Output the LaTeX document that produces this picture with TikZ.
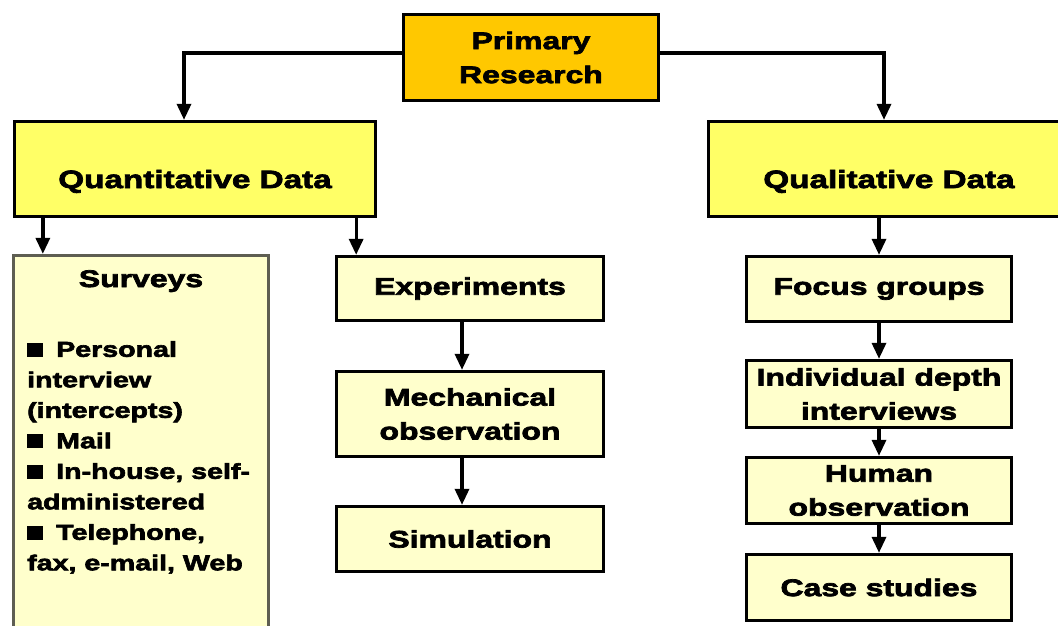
\documentclass[tikz,border=0pt]{standalone}
\usepackage{fontspec}
\setmainfont{Liberation Sans}[FakeStretch=1.33, BoldFeatures={FakeBold=3}]
\usetikzlibrary{arrows.meta}

\definecolor{gold}{HTML}{FFC800}
\definecolor{brightyellow}{HTML}{FFFF66}
\definecolor{paleyellow}{HTML}{FFFFCC}
\definecolor{greyborder}{HTML}{5E5E52}

% square bullet used in the survey list
\newcommand\sqbullet{\rule{16pt}{14pt}\hspace{13pt}}

\begin{document}
\begin{tikzpicture}[x=1pt, y=-1pt,
  box/.style={draw, rectangle, line width=3.3pt, inner sep=0pt, align=center,
    font=\bfseries\fontsize{24}{34}\selectfont},
  topbox/.style={box, fill=gold},
  major/.style={box, fill=brightyellow, font=\bfseries\fontsize{25}{34}\selectfont,
    text height=38pt, text depth=0pt},
  minor/.style={box, fill=paleyellow},
  arr/.style={line width=3.3pt, -{Triangle[length=16pt, width=14pt]}}
]
\fill[white] (0,0) rectangle (1058,625);
\useasboundingbox (0,0) rectangle (1058,625);

% top level
\node[topbox, minimum width=255, minimum height=86] (prim) at (531,57.5) {Primary\\Research};

% data types
\node[major, minimum width=361, minimum height=95] (quant) at (195,169) {Quantitative Data};
\node[major, minimum width=361, minimum height=95] (qual) at (889,169) {Qualitative Data};

% quantitative methods
\node[minor, draw=greyborder, minimum width=255, minimum height=403] (surveys) at (141,457) {};
\node[anchor=base, font=\bfseries\fontsize{24}{30}\selectfont] (survt) at (141,287) {Surveys};
\node[anchor=north west, inner sep=0pt, align=left,
      font=\bfseries\fontsize{21.5}{30.5}\selectfont] (survl) at (27,341)
  {\sqbullet Personal\\interview\\(intercepts)\\\sqbullet Mail\\\sqbullet In-house, self-\\administered\\\sqbullet Telephone,\\fax, e-mail, Web};

\node[minor, minimum width=267, minimum height=64] (exp) at (470,288.5) {Experiments};
\node[minor, minimum width=267, minimum height=85] (mech) at (470,414) {Mechanical\\observation};
\node[minor, minimum width=267, minimum height=65] (sim) at (470,539) {Simulation};

% qualitative methods
\node[minor, minimum width=265, minimum height=65] (focus) at (879,289) {Focus groups};
\node[minor, minimum width=265, minimum height=67] (indiv) at (879,394) {Individual depth\\interviews};
\node[minor, minimum width=265, minimum height=66] (human) at (879,490.5) {Human\\observation};
\node[minor, minimum width=265, minimum height=66] (case) at (879,587.5) {Case studies};

% connectors
\draw[arr] ([yshift=4.5pt]prim.west) -| ([xshift=-11pt]quant.north);
\draw[arr] ([yshift=4.5pt]prim.east) -| ([xshift=-5pt]qual.north);

\draw[arr] ([xshift=30pt]quant.south west) -- ([xshift=30pt]quant.south west |- surveys.north);
\draw[arr] ([xshift=-21pt]quant.south east) -- ([xshift=-21pt]quant.south east |- exp.north);
\draw[arr] ([xshift=-8pt]exp.south) -- ([xshift=-8pt]mech.north);
\draw[arr] ([xshift=-8pt]mech.south) -- ([xshift=-8pt]sim.north);

\draw[arr] (qual.south -| focus.north) -- (focus.north);
\draw[arr] (focus.south) -- (indiv.north);
\draw[arr] (indiv.south) -- (human.north);
\draw[arr] (human.south) -- (case.north);
\end{tikzpicture}
\end{document}
